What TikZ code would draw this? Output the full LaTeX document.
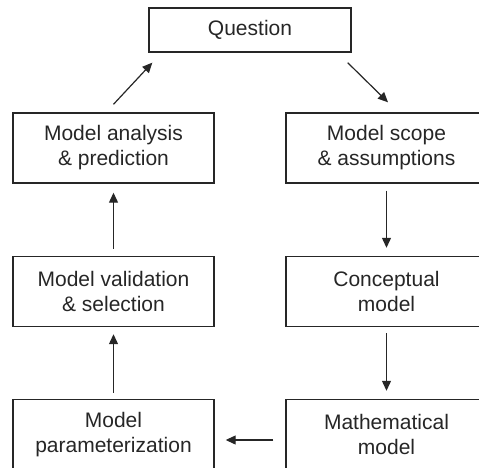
\documentclass[tikz,border=0pt]{standalone}
\usepackage{fontspec}
\setmainfont{Liberation Sans}
\usetikzlibrary{arrows.meta}
\tikzset{
  stagebox/.style={draw=black!85, line width=1.4pt, minimum width=201pt, minimum height=70pt,
    inner sep=0pt, align=center, font=\fontsize{21}{25}\selectfont, text=black!85},
  flow/.style={draw=black!85, line width=1.2pt, -{Triangle[length=10pt,width=9pt]}}
}
\begin{document}
\begin{tikzpicture}[x=1pt,y=-1pt]
        \clip (0,0) rectangle (479,468);

        \node[stagebox, minimum width=202pt, minimum height=44pt] (question) at (250,30) {Question};
        \node[stagebox] (analysis) at (113.5,148) {Model analysis\\\& prediction};
        \node[stagebox] (scope) at (386.5,148) {Model scope\\\& assumptions};
        \node[stagebox] (validation) at (113.5,291.5) {Model validation\\\& selection};
        \node[stagebox] (conceptual) at (386.5,291.5) {Conceptual\\model};
        \node[stagebox] (param) at (113.5,434.5) {Model\\parameterization};
        \node[stagebox] (math) at (386.5,434.5) {Mathematical\\model};

        \draw[flow] ([yshift=8pt]analysis.north) -- ([xshift=4pt,yshift=-10pt]question.south west);
        \draw[flow] ([xshift=-4pt,yshift=-10pt]question.south east) -- ([xshift=1.5pt,yshift=10pt]scope.north);
        \draw[flow, shorten <=7pt, shorten >=9pt] (validation.north) -- (analysis.south);
        \draw[flow, shorten <=7pt, shorten >=8pt] (scope.south) -- (conceptual.north);
        \draw[flow, shorten <=6pt, shorten >=7pt] (param.north) -- (validation.south);
        \draw[flow, shorten <=6pt, shorten >=8pt] (conceptual.south) -- (math.north);
        \draw[flow, shorten <=12pt, shorten >=11pt] ([yshift=-5.5pt]math.west) -- ([yshift=-5.5pt]param.east);
      \end{tikzpicture}
\end{document}
